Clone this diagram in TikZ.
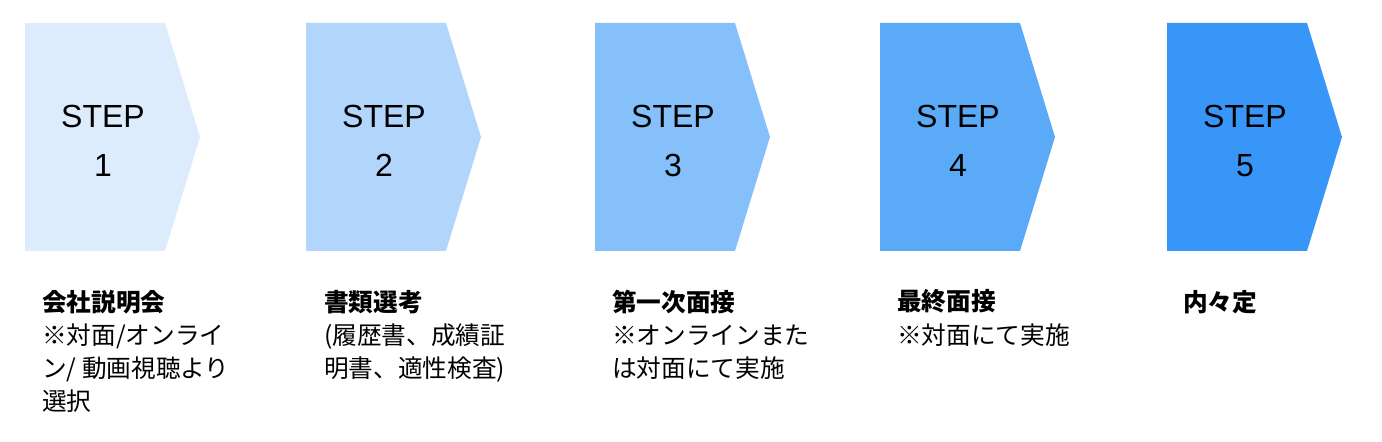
\documentclass[tikz,border=0pt]{standalone}
\usepackage{fontspec}
\setmainfont{Liberation Sans}
\newfontfamily\jpfont{Noto Sans CJK JP}
\definecolor{c1}{RGB}{221,236,252}
\definecolor{c2}{RGB}{178,214,251}
\definecolor{c3}{RGB}{134,192,250}
\definecolor{c4}{RGB}{90,170,248}
\definecolor{c5}{RGB}{56,150,248}
\tikzset{
  steptxt/.style={anchor=base, inner sep=0pt, font=\fontsize{24}{28}\selectfont, text=black},
  lbl/.style={anchor=base west, inner sep=0pt, align=left, font=\jpfont\fontsize{18.5}{24.75}\selectfont, text=black}
}
\begin{document}
\begin{tikzpicture}[x=0.75pt,y=-0.75pt]
\useasboundingbox (0,0) rectangle (1382,442);
\foreach \L/\c/\n in {25/c1/1, 306/c2/2, 595/c3/3, 880/c4/4, 1167/c5/5}{
  \fill[\c] (\L,23) -- (\L+140,23) -- (\L+175,137) -- (\L+140,251) -- (\L,251) -- cycle;
  \node[steptxt] (s\n) at (\L+78,128) {STEP};
  \node[steptxt] (n\n) at (\L+78,177) {\n};
}
% base anchor of a multi-line node is the baseline of its last line
\node[lbl] (l1) at (42,410) {\textbf{会社説明会}\\※対面/オンライ\\ン/ 動画視聴より\\選択};
\node[lbl] (l2) at (324,377) {\textbf{書類選考}\\(履歴書、成績証\\明書、適性検査)};
\node[lbl] (l3) at (612,377) {\textbf{第一次面接}\\※オンラインまた\\は対面にて実施};
\node[lbl] (l4) at (897,344) {\textbf{最終面接}\\※対面にて実施};
\node[lbl] (l5) at (1183,311) {\textbf{内々定}};
\end{tikzpicture}
\end{document}
